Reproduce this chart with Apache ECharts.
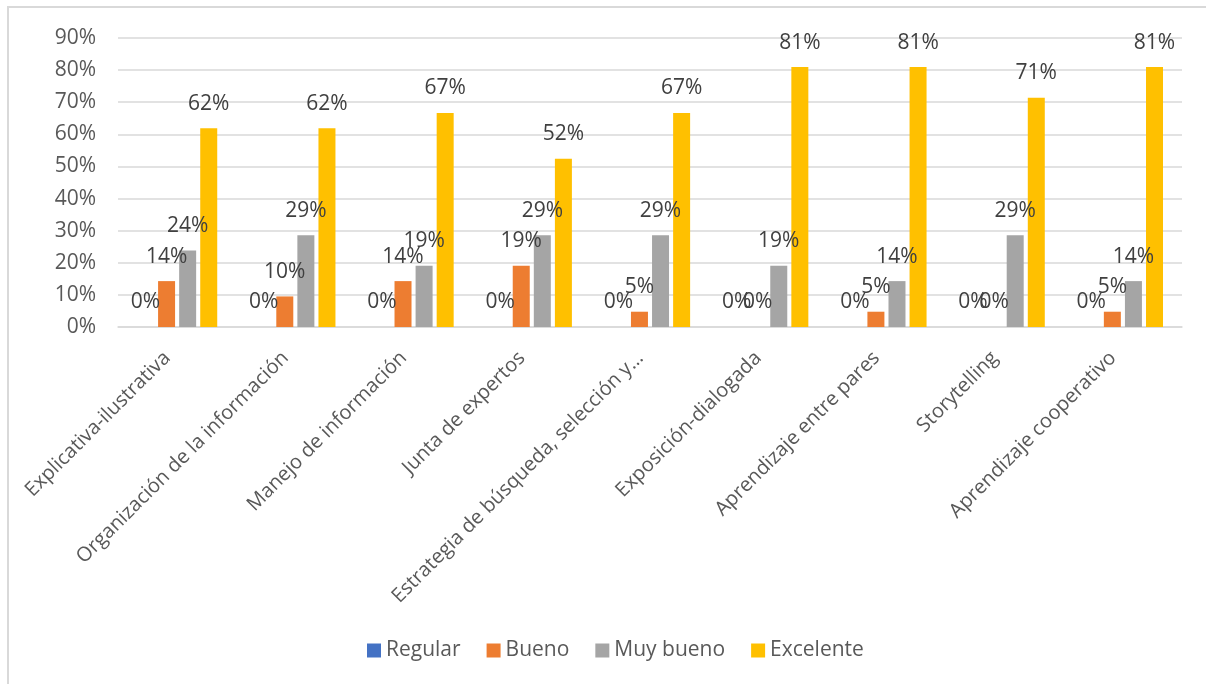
<!DOCTYPE html>
<html>
<head>
<meta charset="utf-8">
<script src="https://cdn.jsdelivr.net/npm/echarts@6/dist/echarts.min.js"></script>
<style>
html,body{margin:0;padding:0;background:#fff;}
#chart{width:1206px;height:684px;}
</style>
</head>
<body>
<div id="chart"></div>
<script>
var categories = ["Explicativa-ilustrativa","Organización de la información","Manejo de información","Junta de expertos","Estrategia de búsqueda, selección y…","Exposición-dialogada","Aprendizaje entre pares","Storytelling","Aprendizaje cooperativo"];
var seriesNames = ["Regular","Bueno","Muy bueno","Excelente"];
var regular = [0,0,0,0,0,0,0,0,0];
var bueno = [14.29,9.52,14.29,19.05,4.76,0,4.76,0,4.76];
var muyBueno = [23.81,28.57,19.05,28.57,28.57,19.05,14.29,28.57,14.29];
var excelente = [61.9,61.9,66.67,52.38,66.67,80.95,80.95,71.43,80.95];
var yTicks = [0,10,20,30,40,50,60,70,80,90];
var colors = ["#4472C4","#ED7D31","#A5A5A5","#FFC000"];

var font = "'Open Sans', sans-serif";
var dataSets = [regular,bueno,muyBueno,excelente];
var chart = echarts.init(document.getElementById('chart'));
var series = dataSets.map(function(d,i){
  return {
    name: seriesNames[i],
    type: 'bar',
    data: d,
    barWidth: 17,
    barGap: '24%',
    itemStyle: {color: colors[i]},
    label: {
      show: true,
      position: 'top',
      distance: 14,
      color: '#404040',
      fontFamily: font,
      fontSize: 21,
      formatter: function(p){ return Math.round(p.value) + '%'; }
    }
  };
});
chart.setOption({
  animation: false,
  backgroundColor: '#fff',
  graphic: [{
    type: 'rect',
    shape: {x: 8, y: 7, width: 1400, height: 900},
    style: {fill: 'none', stroke: '#d9d9d9', lineWidth: 2},
    silent: true
  }],
  grid: {left: 118, right: 24, top: 38, bottom: 357},
  legend: {
    data: seriesNames,
    top: 635,
    left: 362,
    icon: 'rect',
    itemWidth: 14,
    itemHeight: 14,
    itemGap: 26,
    textStyle: {color: '#595959', fontFamily: font, fontSize: 21}
  },
  xAxis: {
    type: 'category',
    data: categories,
    axisTick: {show: false},
    axisLine: {lineStyle: {color: '#d9d9d9', width: 1.5}},
    axisLabel: {
      rotate: 45,
      interval: 0,
      margin: 18,
      padding: [0,14,0,0],
      color: '#595959',
      fontFamily: font,
      fontSize: 20
    }
  },
  yAxis: {
    type: 'value',
    min: 0,
    max: 90,
    interval: 10,
    axisLine: {show: false},
    axisTick: {show: false},
    splitLine: {lineStyle: {color: '#d9d9d9', width: 1.5}},
    axisLabel: {
      margin: 22,
      color: '#595959',
      fontFamily: font,
      fontSize: 21,
      formatter: function(v){ return yTicks.indexOf(v) >= 0 ? v + '%' : ''; }
    }
  },
  series: series
});
</script>
</body>
</html>
